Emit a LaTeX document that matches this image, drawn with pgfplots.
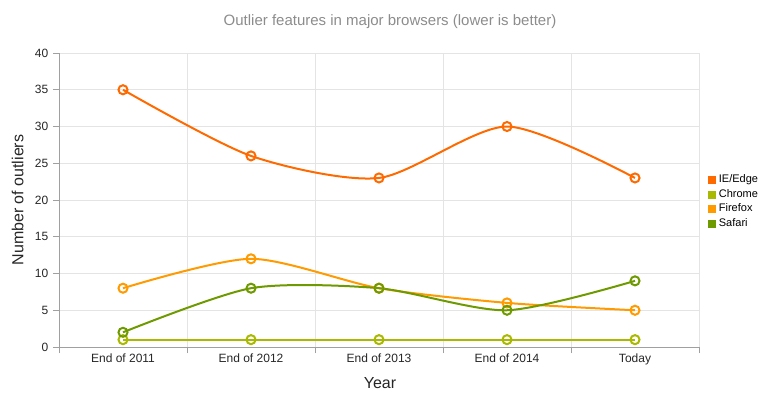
\documentclass[border=0pt]{standalone}
\usepackage{pgfplots}
\pgfplotsset{compat=1.18}
\usepackage{fontspec}
\setmainfont{Liberation Sans}
\definecolor{cie}{HTML}{FF6A00}
\definecolor{cchrome}{HTML}{A9B800}
\definecolor{cff}{HTML}{FF9A00}
\definecolor{csaf}{HTML}{6E9A00}
\definecolor{gridc}{HTML}{E4E4E4}
\definecolor{axc}{HTML}{A0A0A0}
\definecolor{titlec}{HTML}{8C8C8C}
\begin{document}
\begin{tikzpicture}
\useasboundingbox (-44.25pt,-45.75pt) rectangle (540.75pt,260.25pt);
\begin{axis}[
  at={(0pt,0pt)}, anchor=south west,
  scale only axis, width=480pt, height=220.5pt,
  xmin=-0.5, xmax=4.5, ymin=0, ymax=40,
  axis x line*=bottom, axis y line*=left,
  axis line style={axc, line width=0.6pt},
  xtick={-0.5,0.5,1.5,2.5,3.5,4.5}, xticklabels={},
  extra x ticks={0,1,2,3,4},
  extra x tick labels={End of 2011,End of 2012,End of 2013,End of 2014,Today},
  extra x tick style={major tick length=0pt, grid=none},
  ytick={0,5,...,40},
  tick align=outside, major tick length=4.5pt,
  tick style={axc, line width=0.6pt},
  grid=major, grid style={gridc, line width=0.6pt},
  tick label style={font=\fontsize{9}{10}\selectfont, text=black!85},
  xticklabel style={yshift=-1.5pt},
  /pgf/number format/assume math mode=true,
  legend style={at={(1.014,0.595)}, anchor=north west, draw=none, fill=none,
    font=\fontsize{8.25}{9}\selectfont, row sep=-0.6pt, inner sep=0pt,
    legend cell align=left},
  legend image code/.code={\fill[#1,draw=none] (0pt,-3pt) rectangle (6pt,3pt);},
  every axis plot/.append style={line width=1.5pt, smooth, tension=0.45, mark=o,
    mark size=3.4pt, mark options={fill=white, line width=1.5pt}},
]
\addplot[cie] coordinates {(0,35) (1,26) (2,23) (3,30) (4,23)};
\addlegendentry{IE/Edge}
\addplot[cchrome] coordinates {(0,1) (1,1) (2,1) (3,1) (4,1)};
\addlegendentry{Chrome}
\addplot[cff] coordinates {(0,8) (1,12) (2,8) (3,6) (4,5)};
\addlegendentry{Firefox}
\addplot[csaf] coordinates {(0,2) (1,8) (2,8) (3,5) (4,9)};
\addlegendentry{Safari}
\end{axis}
\node[text=titlec, font=\fontsize{11.25}{13}\selectfont] at (248.25pt,243.75pt) {Outlier features in major browsers (lower is better)};
\node[rotate=90, font=\fontsize{12}{14}\selectfont, text=black!85] at (-31pt,110.25pt) {Number of outliers};
\node[font=\fontsize{12}{14}\selectfont, text=black!85] at (240.75pt,-27pt) {Year};
\end{tikzpicture}
\end{document}
